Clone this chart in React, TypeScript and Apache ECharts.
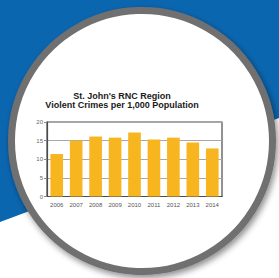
import React, { useEffect, useRef } from "react";
import * as echarts from "echarts";

const years = ["2006", "2007", "2008", "2009", "2010", "2011", "2012", "2013", "2014"];
const violentCrimes = [11.4, 15.0, 16.1, 15.8, 17.2, 15.3, 15.8, 14.5, 12.9];
const yTicks = { min: 0, max: 20, interval: 5 };
const titleLines = ["St. John's RNC Region", "Violent Crimes per 1,000 Population"];

export default function App() {
  const ref = useRef<HTMLDivElement>(null);
  useEffect(() => {
    if (!ref.current) return;
    const chart = echarts.init(ref.current, null, { renderer: "svg" });
    chart.setOption({
      animation: false,
      backgroundColor: "#ffffff",
      graphic: [
        { type: "rect", z: -10, shape: { x: 0, y: 0, width: 279, height: 278 }, style: { fill: "#0B66B0" } },
        {
          type: "polygon",
          z: -9,
          shape: { points: [[0, 222], [279, 118], [279, 278], [0, 278]] },
          style: { fill: "#ffffff" },
        },
        {
          type: "circle",
          z: -8,
          shape: { cx: 142, cy: 141, r: 130.5 },
          style: {
            fill: "#ffffff",
            stroke: "#707070",
            lineWidth: 7,
            shadowBlur: 6,
            shadowOffsetX: 2,
            shadowOffsetY: 3,
            shadowColor: "rgba(0,0,0,0.45)",
          },
        },
        {
          type: "text",
          z: 5,
          x: 122,
          y: 95.5,
          style: {
            text: titleLines[0],
            fill: "#1a1a1a",
            font: "bold 9px 'Liberation Sans', Arial, sans-serif",
            textAlign: "center",
            textVerticalAlign: "middle",
          },
        },
        {
          type: "text",
          z: 5,
          x: 122,
          y: 105,
          style: {
            text: titleLines[1],
            fill: "#1a1a1a",
            font: "bold 9px 'Liberation Sans', Arial, sans-serif",
            textAlign: "center",
            textVerticalAlign: "middle",
          },
        },
      ],
      grid: {
        left: 47,
        right: 57,
        top: 122,
        bottom: 81.5,
        show: true,
        borderColor: "#4a4a4a",
        borderWidth: 1.2,
      },
      xAxis: {
        type: "category",
        data: years,
        axisLine: { show: true, lineStyle: { color: "#4a4a4a", width: 1.2 } },
        axisTick: { show: false },
        axisLabel: { fontSize: 6, color: "#555", margin: 5, fontFamily: "'Liberation Sans', Arial, sans-serif" },
      },
      yAxis: {
        type: "value",
        min: yTicks.min,
        max: yTicks.max,
        interval: yTicks.interval,
        axisLine: { show: true, lineStyle: { color: "#4a4a4a", width: 1.2 } },
        axisTick: { show: true, length: 3, lineStyle: { color: "#888" } },
        axisLabel: { fontSize: 6, color: "#666", margin: 4, fontFamily: "'Liberation Sans', Arial, sans-serif" },
        splitLine: { show: true, lineStyle: { color: "#a8a8a8", width: 1 } },
      },
      series: [
        {
          type: "bar",
          data: violentCrimes,
          barCategoryGap: "35%",
          itemStyle: { color: "#F7B520" },
        },
      ],
    });
    return () => chart.dispose();
  }, []);
  return <div ref={ref} style={{ position: "fixed", left: 0, top: 0, width: 279, height: 278 }} />;
}
